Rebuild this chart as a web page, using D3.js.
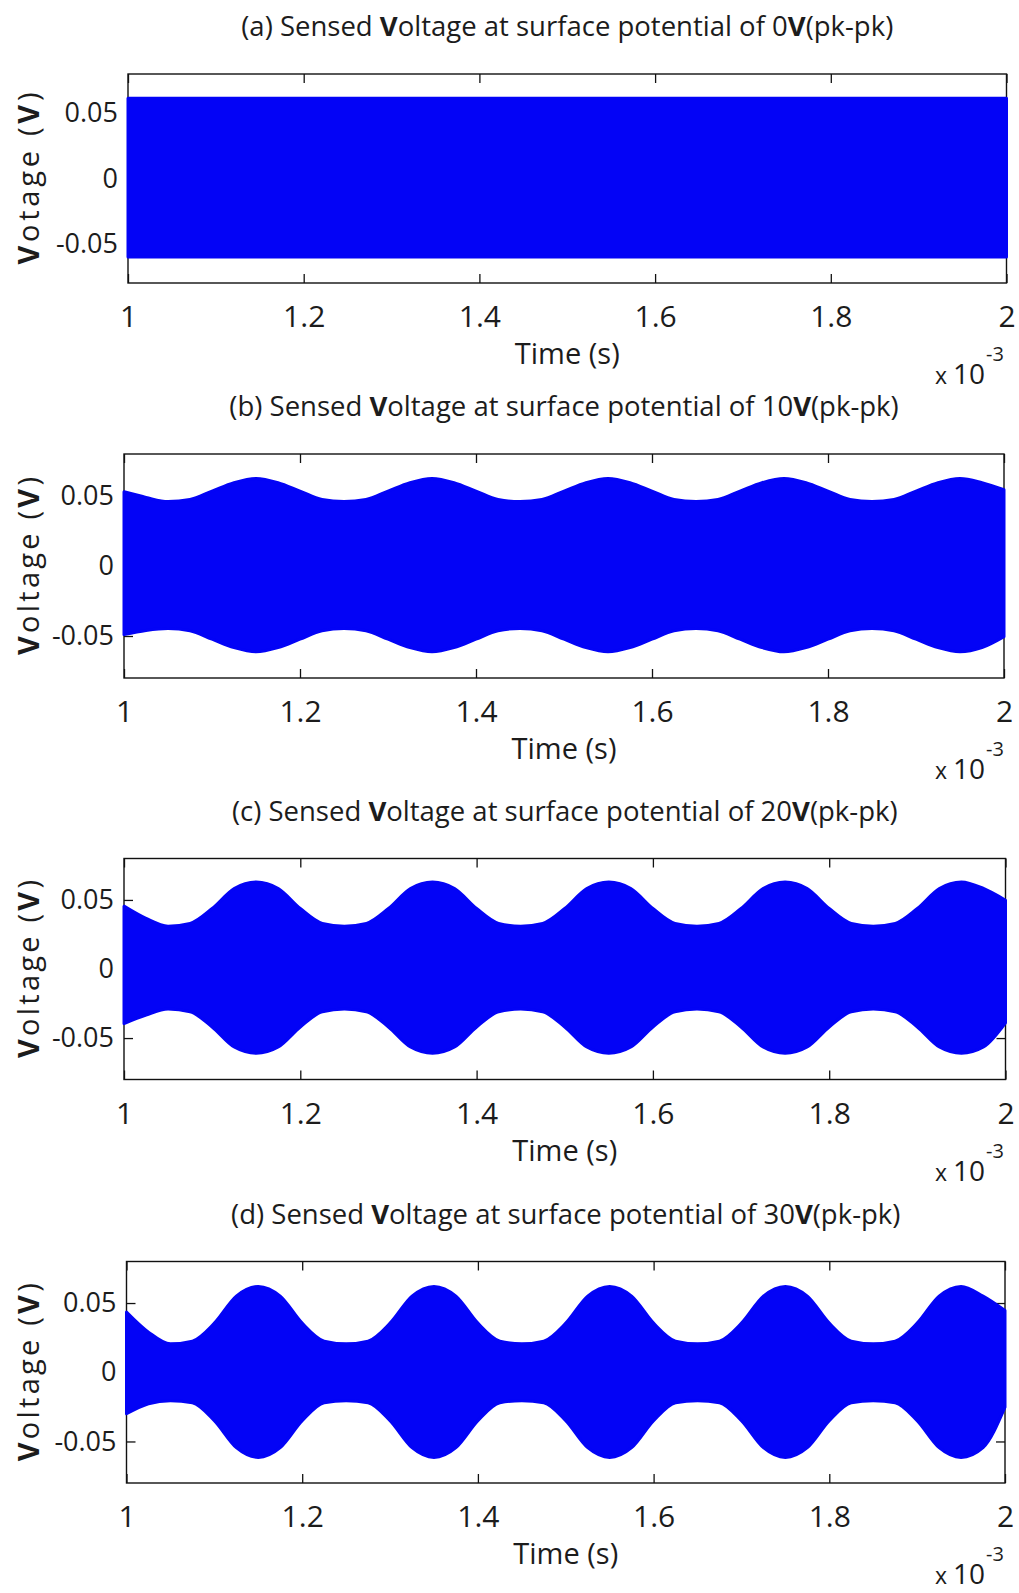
<!DOCTYPE html>
<html>
<head>
<meta charset="utf-8">
<script src="https://cdn.jsdelivr.net/npm/d3@7"></script>
<style>
  html, body { margin: 0; padding: 0; background: #ffffff; }
  svg { display: block; }
  text { font-family: "Open Sans", "Noto Sans", sans-serif; fill: #1c1c1c; }
</style>
</head>
<body>
<svg id="chart" width="1019" height="1593"></svg>
<script>
// Sample instants (x 10^-3 s) at which the signal envelope is given
const timeMs = [
  1.000, 1.025, 1.050, 1.075, 1.100, 1.125, 1.150, 1.175, 1.200, 1.225,
  1.250, 1.275, 1.300, 1.325, 1.350, 1.375, 1.400, 1.425, 1.450, 1.475,
  1.500, 1.525, 1.550, 1.575, 1.600, 1.625, 1.650, 1.675, 1.700, 1.725,
  1.750, 1.775, 1.800, 1.825, 1.850, 1.875, 1.900, 1.925, 1.950, 1.975,
  2.000
];

const panelTitles = [
  "(a) Sensed Voltage at surface potential of 0V(pk-pk)",
  "(b) Sensed Voltage at surface potential of 10V(pk-pk)",
  "(c) Sensed Voltage at surface potential of 20V(pk-pk)",
  "(d) Sensed Voltage at surface potential of 30V(pk-pk)"
];
const yAxisLabels = ["Votage (V)", "Voltage (V)", "Voltage (V)", "Voltage (V)"];
const xAxisLabel = "Time (s)";
const xExponentBase = "10";
const xExponentPower = "-3";

const xTickValues = [1, 1.2, 1.4, 1.6, 1.8, 2];
const xTickLabels = ["1", "1.2", "1.4", "1.6", "1.8", "2"];
const yTickValues = [-0.05, 0, 0.05];
const yTickLabels = ["-0.05", "0", "0.05"];

// Upper / lower envelope of the sensed carrier (V) for each surface potential
const upper0V = [
  0.0615, 0.0615, 0.0615, 0.0615, 0.0615, 0.0615, 0.0615, 0.0615, 0.0615, 0.0615,
  0.0615, 0.0615, 0.0615, 0.0615, 0.0615, 0.0615, 0.0615, 0.0615, 0.0615, 0.0615,
  0.0615, 0.0615, 0.0615, 0.0615, 0.0615, 0.0615, 0.0615, 0.0615, 0.0615, 0.0615,
  0.0615, 0.0615, 0.0615, 0.0615, 0.0615, 0.0615, 0.0615, 0.0615, 0.0615, 0.0615,
  0.0615
];
const lower0V = [
  -0.0600, -0.0600, -0.0600, -0.0600, -0.0600, -0.0600, -0.0600, -0.0600, -0.0600, -0.0600,
  -0.0600, -0.0600, -0.0600, -0.0600, -0.0600, -0.0600, -0.0600, -0.0600, -0.0600, -0.0600,
  -0.0600, -0.0600, -0.0600, -0.0600, -0.0600, -0.0600, -0.0600, -0.0600, -0.0600, -0.0600,
  -0.0600, -0.0600, -0.0600, -0.0600, -0.0600, -0.0600, -0.0600, -0.0600, -0.0600, -0.0600,
  -0.0600
];

const upper10V = [
  0.0530, 0.0490, 0.0460, 0.0475, 0.0535, 0.0595, 0.0625, 0.0595, 0.0535, 0.0475,
  0.0460, 0.0475, 0.0535, 0.0595, 0.0625, 0.0595, 0.0535, 0.0475, 0.0460, 0.0475,
  0.0535, 0.0595, 0.0625, 0.0595, 0.0535, 0.0475, 0.0460, 0.0475, 0.0535, 0.0595,
  0.0625, 0.0595, 0.0535, 0.0475, 0.0460, 0.0475, 0.0535, 0.0595, 0.0625, 0.0595,
  0.0545
];
const lower10V = [
  -0.0490, -0.0460, -0.0446, -0.0462, -0.0523, -0.0583, -0.0613, -0.0583, -0.0523, -0.0462,
  -0.0446, -0.0462, -0.0523, -0.0583, -0.0613, -0.0583, -0.0523, -0.0462, -0.0446, -0.0462,
  -0.0523, -0.0583, -0.0613, -0.0583, -0.0523, -0.0462, -0.0446, -0.0462, -0.0523, -0.0583,
  -0.0613, -0.0583, -0.0523, -0.0462, -0.0446, -0.0462, -0.0523, -0.0583, -0.0613, -0.0583,
  -0.0505
];

const upper20V = [
  0.0455, 0.0366, 0.0310, 0.0330, 0.0438, 0.0583, 0.0630, 0.0583, 0.0438, 0.0330,
  0.0310, 0.0330, 0.0438, 0.0583, 0.0630, 0.0583, 0.0438, 0.0330, 0.0310, 0.0330,
  0.0438, 0.0583, 0.0630, 0.0583, 0.0438, 0.0330, 0.0310, 0.0330, 0.0438, 0.0583,
  0.0630, 0.0583, 0.0438, 0.0330, 0.0310, 0.0330, 0.0438, 0.0583, 0.0630, 0.0583,
  0.0498
];
const lower20V = [
  -0.0395, -0.0334, -0.0290, -0.0310, -0.0420, -0.0565, -0.0610, -0.0565, -0.0420, -0.0310,
  -0.0290, -0.0310, -0.0420, -0.0565, -0.0610, -0.0565, -0.0420, -0.0310, -0.0290, -0.0310,
  -0.0420, -0.0565, -0.0610, -0.0565, -0.0420, -0.0310, -0.0290, -0.0310, -0.0420, -0.0565,
  -0.0610, -0.0565, -0.0420, -0.0310, -0.0290, -0.0310, -0.0420, -0.0565, -0.0610, -0.0565,
  -0.0390
];

const upper30V = [
  0.0435, 0.0290, 0.0205, 0.0225, 0.0355, 0.0550, 0.0620, 0.0550, 0.0355, 0.0225,
  0.0205, 0.0225, 0.0355, 0.0550, 0.0620, 0.0550, 0.0355, 0.0225, 0.0205, 0.0225,
  0.0355, 0.0550, 0.0620, 0.0550, 0.0355, 0.0225, 0.0205, 0.0225, 0.0355, 0.0550,
  0.0620, 0.0550, 0.0355, 0.0225, 0.0205, 0.0225, 0.0355, 0.0550, 0.0620, 0.0550,
  0.0446
];
const lower30V = [
  -0.0300, -0.0228, -0.0205, -0.0220, -0.0350, -0.0545, -0.0615, -0.0545, -0.0350, -0.0220,
  -0.0205, -0.0220, -0.0350, -0.0545, -0.0615, -0.0545, -0.0350, -0.0220, -0.0205, -0.0220,
  -0.0350, -0.0545, -0.0615, -0.0545, -0.0350, -0.0220, -0.0205, -0.0220, -0.0350, -0.0545,
  -0.0615, -0.0545, -0.0350, -0.0220, -0.0205, -0.0220, -0.0350, -0.0545, -0.0615, -0.0545,
  -0.0253
];

// Plot-area frames of the four stacked axes
const frames = [
  { left: 128,   right: 1006.5, top: 74,    bottom: 283 },
  { left: 124,   right: 1004,   top: 454,   bottom: 678 },
  { left: 124,   right: 1005.5, top: 858.5, bottom: 1079.5 },
  { left: 126.5, right: 1005,   top: 1261.5, bottom: 1483 }
];

const envelopes = [
  { upper: upper0V,  lower: lower0V },
  { upper: upper10V, lower: lower10V },
  { upper: upper20V, lower: lower20V },
  { upper: upper30V, lower: lower30V }
];

const signalColor = "#0303f6";
const tickLen = 9;

const svg = d3.select("#chart");

// Writes a string, drawing every capital V in bold weight
function writeWithBoldV(textSel, str) {
  const parts = str.split(/(V)/);
  parts.forEach(p => {
    if (p === "") return;
    const t = textSel.append("tspan").text(p);
    if (p === "V") t.attr("font-weight", "bold");
  });
}

panelTitles.forEach((title, i) => {
  const f = frames[i];
  const env = envelopes[i];
  const g = svg.append("g");

  const x = d3.scaleLinear().domain([1, 2]).range([f.left, f.right]);
  const y = d3.scaleLinear().domain([-0.08, 0.08]).range([f.bottom, f.top]);

  // ticks on all four sides, pointing inward
  const bottomAxis = d3.axisBottom(x).tickValues(xTickValues)
    .tickFormat((d, k) => xTickLabels[k])
    .tickSizeInner(-tickLen).tickSizeOuter(0).tickPadding(23);
  const topAxis = d3.axisTop(x).tickValues(xTickValues).tickFormat("")
    .tickSizeInner(-tickLen).tickSizeOuter(0);
  const leftAxis = d3.axisLeft(y).tickValues(yTickValues)
    .tickFormat((d, k) => yTickLabels[k])
    .tickSizeInner(-tickLen).tickSizeOuter(0).tickPadding(10);
  const rightAxis = d3.axisRight(y).tickValues(yTickValues).tickFormat("")
    .tickSizeInner(-tickLen).tickSizeOuter(0);

  const gb = g.append("g").attr("transform", `translate(0,${f.bottom})`).call(bottomAxis);
  const gt = g.append("g").attr("transform", `translate(0,${f.top})`).call(topAxis);
  const gl = g.append("g").attr("transform", `translate(${f.left},0)`).call(leftAxis);
  const gr = g.append("g").attr("transform", `translate(${f.right},0)`).call(rightAxis);

  [gb, gt, gl, gr].forEach(a => {
    a.select(".domain").remove();
    a.selectAll(".tick line").attr("stroke", "#111").attr("stroke-width", 1.3);
  });
  gb.selectAll(".tick text")
    .attr("font-size", 30).attr("fill", "#1c1c1c")
    .style("font-family", "'Open Sans', sans-serif");
  gl.selectAll(".tick text")
    .attr("font-size", 27).attr("fill", "#1c1c1c")
    .style("font-family", "'Open Sans', sans-serif");

  // axes box
  g.append("rect")
    .attr("x", f.left).attr("y", f.top)
    .attr("width", f.right - f.left).attr("height", f.bottom - f.top)
    .attr("fill", "none").attr("stroke", "#111").attr("stroke-width", 1.4);

  // filled carrier band between the envelopes
  const area = d3.area()
    .x((d, k) => x(timeMs[k]))
    .y0((d, k) => y(env.lower[k]))
    .y1((d, k) => y(env.upper[k]))
    .curve(d3.curveMonotoneX);
  g.append("path")
    .datum(timeMs)
    .attr("d", area)
    .attr("fill", signalColor)
    .attr("stroke", signalColor)
    .attr("stroke-width", 3)
    .attr("stroke-linejoin", "round");

  // title
  const cx = (f.left + f.right) / 2;
  const tt = g.append("text")
    .attr("x", cx).attr("y", f.top - 38)
    .attr("text-anchor", "middle")
    .attr("font-size", 27.5);
  writeWithBoldV(tt, title);

  // y label
  const yl = g.append("text")
    .attr("transform", `translate(39,${(f.top + f.bottom) / 2}) rotate(-90)`)
    .attr("text-anchor", "middle")
    .attr("font-size", 29)
    .attr("textLength", i === 0 ? 172 : 178)
    .attr("lengthAdjust", "spacing");
  writeWithBoldV(yl, yAxisLabels[i]);

  // x label
  g.append("text")
    .attr("x", cx).attr("y", f.bottom + 81)
    .attr("text-anchor", "middle")
    .attr("font-size", 29)
    .text(xAxisLabel);

  // exponent marker
  const ex = g.append("text")
    .attr("x", 935).attr("y", f.bottom + 101);
  ex.append("tspan").attr("font-size", 23).text("x ");
  ex.append("tspan").attr("font-size", 28).text(xExponentBase);
  g.append("text")
    .attr("x", 986).attr("y", f.bottom + 78)
    .attr("font-size", 20)
    .text(xExponentPower);
});
</script>
</body>
</html>
